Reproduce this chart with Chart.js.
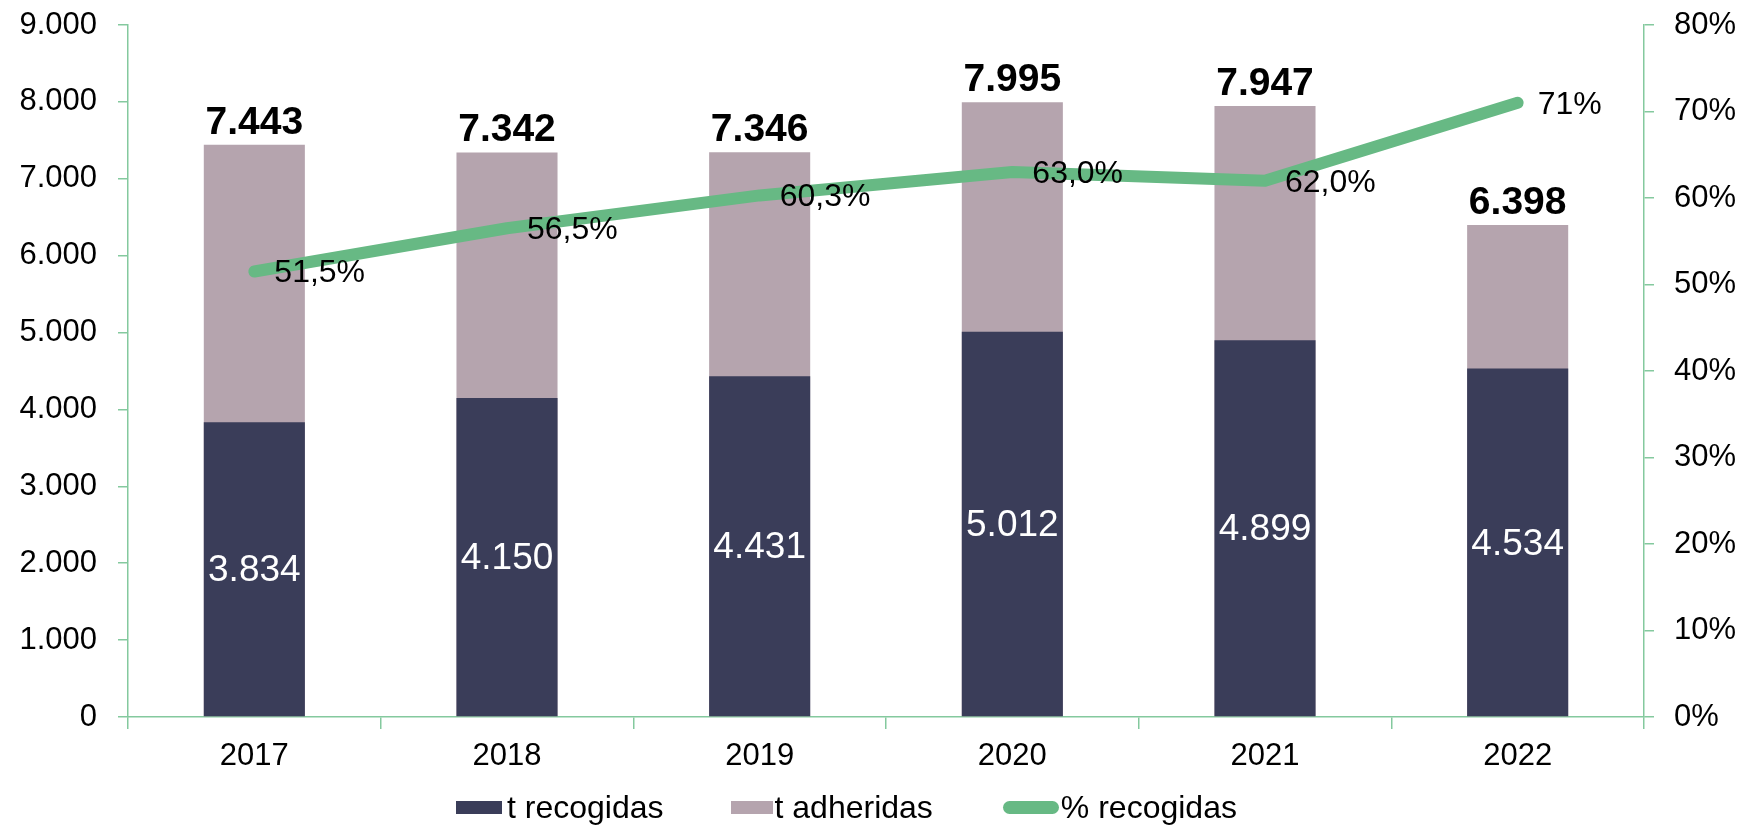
<!DOCTYPE html>
<html>
<head>
<meta charset="utf-8">
<script src="https://cdn.jsdelivr.net/npm/chart.js@4"></script>
<style>
  body { margin: 0; background: #fff; }
  #wrap { position: relative; width: 1754px; height: 832px; }
  #legend {
    position: absolute; left: 456px; top: 791px; height: 32px;
    display: flex; align-items: center;
    font: 32px "Liberation Sans", Arial, sans-serif; color: #000;
  }
  #legend .item { display: flex; align-items: center; }
  #legend .swatch { height: 13px; }
</style>
</head>
<body>
<div id="wrap">
  <canvas id="chart" width="1754" height="832"></canvas>
  <div id="legend"></div>
</div>
<script>
const years = ['2017', '2018', '2019', '2020', '2021', '2022'];
const tRecogidas = [3834, 4150, 4431, 5012, 4899, 4534];
const tAdheridas = [7443, 7342, 7346, 7995, 7947, 6398];
const pctRecogidas = [51.5, 56.5, 60.3, 63.0, 62.0, 71];
const pctLabels = ['51,5%', '56,5%', '60,3%', '63,0%', '62,0%', '71%'];

const DARK = '#3a3d59';
const MAUVE = '#b5a4ae';
const GREEN = '#67b984';
const AXIS = '#84c99e';
const FONT = '"Liberation Sans", Arial, sans-serif';

// 7443 -> "7.443"
const miles = (v) => String(Math.round(v)).replace(/\B(?=(\d{3})+(?!\d))/g, '.');

const valueLabels = {
  id: 'valueLabels',
  afterDatasetsDraw(chart) {
    const ctx = chart.ctx;
    const rec = chart.getDatasetMeta(0).data;
    const adh = chart.getDatasetMeta(1).data;
    const pct = chart.getDatasetMeta(2).data;
    ctx.save();
    ctx.textAlign = 'center';

    // totals above the bars
    ctx.fillStyle = '#000';
    ctx.font = 'bold 39px ' + FONT;
    ctx.textBaseline = 'alphabetic';
    adh.forEach((bar, i) => {
      ctx.fillText(miles(tAdheridas[i]), bar.x, bar.y - 11);
    });

    // collected tonnes inside the dark bars
    ctx.fillStyle = '#fff';
    ctx.font = '37px ' + FONT;
    ctx.textBaseline = 'middle';
    rec.forEach((bar, i) => {
      ctx.fillText(miles(tRecogidas[i]), bar.x, (bar.y + bar.base) / 2 + 2);
    });

    // percentages right of the line points
    ctx.fillStyle = '#000';
    ctx.font = '32px ' + FONT;
    ctx.textAlign = 'left';
    pct.forEach((pt, i) => {
      ctx.fillText(pctLabels[i], pt.x + 20, pt.y + 2);
    });
    ctx.restore();
  }
};

const tickFont = { family: FONT, size: 31 };

// fixed axis sizes, and no extra top padding for the label of the last tick
const fitSide = (w) => (s) => { s.width = w; s.paddingTop = 0; s.paddingBottom = 0; };

const chart = new Chart(document.getElementById('chart'), {
  type: 'bar',
  data: {
    labels: years,
    datasets: [
      {
        label: 't recogidas',
        data: tRecogidas,
        backgroundColor: DARK,
        yAxisID: 'y',
        order: 1,
        barPercentage: 0.4,
        categoryPercentage: 1.0,
      },
      {
        label: 't adheridas',
        data: tAdheridas,
        backgroundColor: MAUVE,
        yAxisID: 'y',
        order: 2,
        barPercentage: 0.4,
        categoryPercentage: 1.0,
      },
      {
        type: 'line',
        label: '% recogidas',
        data: pctRecogidas,
        borderColor: GREEN,
        backgroundColor: GREEN,
        borderWidth: 12,
        borderCapStyle: 'round',
        borderJoinStyle: 'round',
        pointRadius: 0,
        tension: 0,
        yAxisID: 'y1',
        order: 0,
      },
    ],
  },
  options: {
    responsive: false,
    animation: false,
    layout: { padding: { top: 25, bottom: 57, left: 0, right: 0 } },
    plugins: {
      legend: { display: false },
      tooltip: { enabled: false },
    },
    scales: {
      x: {
        stacked: true,
        offset: true,
        grid: { offset: true, drawOnChartArea: false, drawTicks: true, tickLength: 12, color: AXIS, lineWidth: 1.5 },
        border: { color: AXIS, width: 1.5 },
        ticks: { font: tickFont, color: '#000', padding: 9 },
        afterFit: (s) => { s.height = 58; },
      },
      y: {
        position: 'left',
        stacked: false,
        min: 0,
        max: 9000,
        grid: { drawOnChartArea: false, tickLength: 10, color: AXIS, lineWidth: 1.5 },
        border: { color: AXIS, width: 1.5 },
        ticks: { stepSize: 1000, font: tickFont, color: '#000', padding: 21, callback: (v) => miles(v) },
        afterFit: fitSide(128),
      },
      y1: {
        position: 'right',
        min: 0,
        max: 80,
        grid: { drawOnChartArea: false, tickLength: 10, color: AXIS, lineWidth: 1.5 },
        border: { color: AXIS, width: 1.5 },
        ticks: { stepSize: 10, font: tickFont, color: '#000', padding: 20, callback: (v) => v + '%' },
        afterFit: fitSide(110),
      },
    },
  },
  plugins: [valueLabels],
});

// legend below the chart, built from the datasets
const legendEl = document.getElementById('legend');
const swatchWidths = [46, 42, 56];
const gapsBefore = [0, 67, 70];
const textGaps = [5, 2, 2];
chart.data.datasets.forEach((ds, i) => {
  const item = document.createElement('div');
  item.className = 'item';
  item.style.marginLeft = gapsBefore[i] + 'px';
  const sw = document.createElement('span');
  sw.className = 'swatch';
  sw.style.width = swatchWidths[i] + 'px';
  sw.style.background = ds.type === 'line' ? ds.borderColor : ds.backgroundColor;
  if (ds.type === 'line') sw.style.borderRadius = '6.5px';
  sw.style.marginRight = textGaps[i] + 'px';
  const txt = document.createElement('span');
  txt.textContent = ds.label;
  item.appendChild(sw);
  item.appendChild(txt);
  legendEl.appendChild(item);
});
</script>
</body>
</html>
